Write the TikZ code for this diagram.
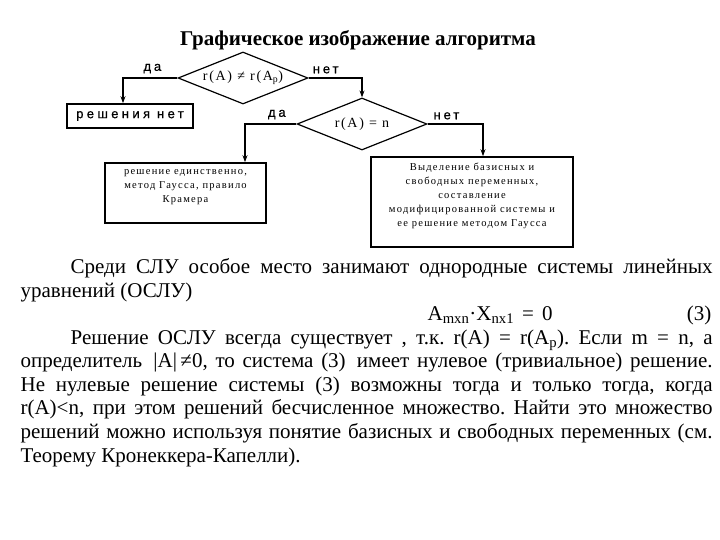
\documentclass[tikz,border=0pt]{standalone}
\usepackage{fontspec}
\setmainfont{Liberation Serif}
\newfontfamily\flowsans[LetterSpace=22, FakeBold=0.8]{Liberation Sans}
\newfontfamily\boxsans[LetterSpace=26, FakeBold=0.8]{Liberation Sans}
\newfontfamily\flowserif[LetterSpace=12]{Liberation Serif}
\usetikzlibrary{arrows.meta, shapes.geometric}
\frenchspacing

\begin{document}
\begin{tikzpicture}[x=1pt, y=-1pt, line width=1.2pt,
    cond/.style={draw, diamond, aspect=2.5, minimum width=130pt, minimum height=52pt,
      inner sep=0pt, font=\flowserif\fontsize{14}{16}\selectfont},
    act/.style={draw, line width=1.6pt, rectangle, inner sep=0pt, align=center,
      font=\flowserif\fontsize{10.5}{14}\selectfont},
    lbl/.style={font=\flowsans\fontsize{13}{15}\selectfont, inner sep=0pt, above=4pt},
    arr/.style={-{Stealth[length=7pt, width=5pt]}},
    txt/.style={anchor=base west, inner sep=0pt, font=\fontsize{21}{24}\selectfont}]
        \useasboundingbox (0,0) rectangle (720,540);
        \fill[white] (0,0) rectangle (720,540);

        % заголовок
        \node[inner sep=0pt, font=\bfseries\fontsize{21}{24}\selectfont] (title) at (358,40)
          {Графическое изображение алгоритма};

        % первая проверка: r(A) != r(Ap)
        \node[cond] (rank) at (243,78) {r(A) ≠ r(A\textsubscript{p})};
        \node[draw, line width=1.6pt, minimum width=126pt, minimum height=24pt, inner sep=0pt,
          font=\boxsans\fontsize{13}{15}\selectfont] (nosol) at (130,116) {решения нет};
        \draw[arr] (rank.west) -| node[lbl, pos=0.23] {да} ([xshift=-7pt]nosol.north);

        % вторая проверка: r(A) = n
        \node[cond] (full) at (362,124) {r(A) = n};
        \draw[arr] (rank.east) -| node[lbl, pos=0.16] {нет} (full.north);

        % единственное решение
        \node[act, minimum width=161pt, minimum height=60pt] (uniq) at (185.5,193)
          {решение единственно,\\метод Гаусса, правило\\Крамера\\~};
        \draw[arr] (full.west) -| node[lbl, pos=0.19] {да} ([xshift=59.5pt]uniq.north);

        % бесконечно много решений
        \node[act, minimum width=202pt, minimum height=90pt] (many) at (472,202)
          {Выделение базисных и\\свободных переменных,\\составление\\модифицированной системы и\\ее решение методом Гаусса\\~};
        \draw[arr] (full.east) -| node[lbl, pos=0.17] {нет} ([xshift=11pt]many.north);

        % текст под схемой
        \node[txt] (l1) at (70,273) {\makebox[642pt][s]{Среди СЛУ особое место занимают однородные системы линейных}};
        \node[txt] (l2) at (20,297) {уравнений (ОСЛУ)};
        \node[txt] (l3) at (427,320) {\makebox[125pt][s]{A\textsubscript{mxn}·X\textsubscript{nx1} = 0}};
        \node[txt, anchor=base east] (n3) at (712,320) {(3)};
        \node[txt] (l4) at (70,344) {\makebox[642pt][s]{Решение ОСЛУ всегда существует , т.к. r(A) = r(A\textsubscript{p}). Если m = n, а}};
        \node[txt] (l5) at (20,367) {\makebox[692pt][s]{определитель \,|A|\,≠0, то система (3)\, имеет нулевое (тривиальное) решение.}};
        \node[txt] (l6) at (20,391) {\makebox[692pt][s]{Не нулевые решение системы (3) возможны тогда и только тогда, когда}};
        \node[txt] (l7) at (20,414) {\makebox[692pt][s]{r(A)<n, при этом решений бесчисленное множество. Найти это множество}};
        \node[txt] (l8) at (20,438) {\makebox[692pt][s]{решений можно используя понятие базисных и свободных переменных (см.}};
        \node[txt] (l9) at (20,462) {Теорему Кронеккера-Капелли).};
\end{tikzpicture}
\end{document}
